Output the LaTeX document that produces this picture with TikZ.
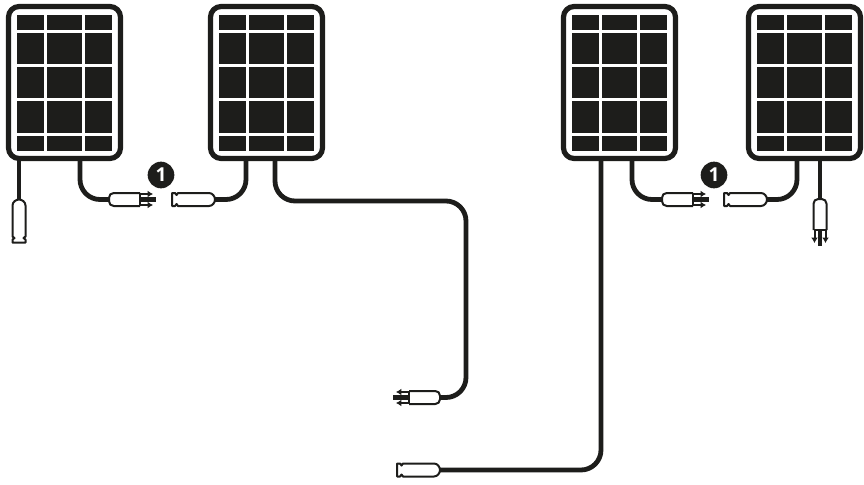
\documentclass[tikz,border=0pt]{standalone}
\usepackage{tikz}
\usepackage{fontspec}
\setsansfont{Open Sans}
\usetikzlibrary{arrows.meta}

\definecolor{panelblack}{HTML}{1D1D1B}

\tikzset{
  cable/.style={draw=panelblack, line width=3.6pt, rounded corners=15pt},
  plugline/.style={draw=panelblack, fill=white, line width=1.5pt, line join=round},
  badge/.style={circle, fill=panelblack, text=white, inner sep=0, minimum size=20pt, font=\sffamily\bfseries\Large},
  panelcell/.style={fill=panelblack},
  solarpanel/.pic={
    \draw[draw=panelblack, fill=white, line width=3.9pt, rounded corners=8pt] (8.5,6.5) rectangle (120.5,158.5);
    \foreach \xa/\xb in {17.3/44, 47/82, 85/112.3} {
      \foreach \ya/\yb in {15/30, 33/64, 67/98, 101/133, 136/151} {
        \fill[panelcell] (\xa,\ya) rectangle (\xb,\yb);
      }
    }
  },
  % origin is the cable end, +x runs towards the tip
  maleplug/.pic={
    \coordinate (-end) at (0,0);
    \draw[panelblack, line width=3.4pt] (30,0) -- (47,0);
    \draw[panelblack, line width=1.5pt, -{Latex[length=4pt,width=5pt]}] (30,-5.5) -- (44,-5.5);
    \draw[panelblack, line width=1.5pt, -{Latex[length=4pt,width=5pt]}] (30,5.5) -- (44,5.5);
    \draw[plugline, rounded corners=3.5pt] (31,-6.5) -- (0,-6.5) -- (0,6.5) -- (31,6.5);
    \draw[plugline, fill=none, line width=2pt] (31,-6.5) -- (31,6.5);
  },
  femaleplug/.pic={
    \coordinate (-end) at (0,0);
    \draw[plugline] (6,-6.5) .. controls (2.5,-6.5) and (0,-3) .. (0,0) .. controls (0,3) and (2.5,6.5) .. (6,6.5) -- (37,6.5) -- (38.5,4.5) -- (40,6.5) -- (43,6.5) -- (43,-6.5) -- (40,-6.5) -- (38.5,-4.5) -- (37,-6.5) -- cycle;
  },
}

\begin{document}
\begin{tikzpicture}[x=0.75pt, y=-0.75pt]
  \useasboundingbox (0,0) rectangle (864,485);

  % where the cables leave the panels
  \coordinate (a1) at (19,158);
  \coordinate (a2) at (80,158);
  \coordinate (b1) at (246,158);
  \coordinate (b2) at (275,158);
  \coordinate (c1) at (601,158);
  \coordinate (c2) at (632,158);
  \coordinate (d1) at (797,158);
  \coordinate (d2) at (820,158);

  \coordinate (turn1) at (466,201);

  \pic (f1) at (19,199.5) [rotate=-90] {femaleplug};
  \pic (m1) at (109,199.5) {maleplug};
  \pic (f2) at (215,199.5) [xscale=-1] {femaleplug};
  \pic (m2) at (440,397.5) [xscale=-1] {maleplug};
  \pic (f3) at (440,470) [xscale=-1] {femaleplug};
  \pic (m3) at (662,199.5) {maleplug};
  \pic (f4) at (767,199.5) [xscale=-1] {femaleplug};
  \pic (m4) at (820,199) [rotate=-90] {maleplug};

  \draw[cable] (a1) -- (f1-end);
  \draw[cable] (a2) |- (m1-end);
  \draw[cable] (b1) |- (f2-end);
  \draw[cable] (b2) |- (turn1) |- (m2-end);
  \draw[cable] (c1) |- (f3-end);
  \draw[cable] (c2) |- (m3-end);
  \draw[cable] (d1) |- (f4-end);
  \draw[cable] (d2) -- (m4-end);

  \pic (p1) at (0,0) {solarpanel};
  \pic (p2) at (202,0) {solarpanel};
  \pic (p3) at (555,0) {solarpanel};
  \pic (p4) at (740,0) {solarpanel};

  \node[badge] (n1) at (161,175) {1};
  \node[badge] (n2) at (714,175) {1};
\end{tikzpicture}
\end{document}
